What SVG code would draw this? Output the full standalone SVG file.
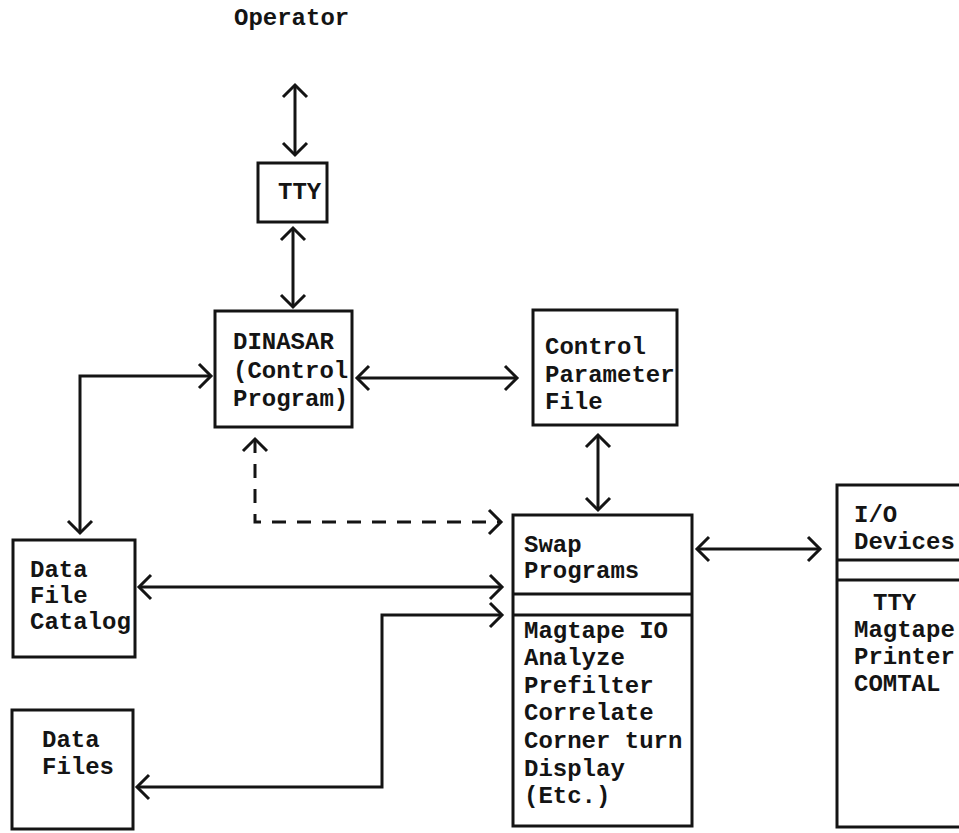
<svg xmlns="http://www.w3.org/2000/svg" width="959" height="833" viewBox="0 0 959 833">
<defs>
<style>
.box{fill:none;stroke:#141414;stroke-width:3;}
.ln{fill:none;stroke:#141414;stroke-width:3;}
.t{font-family:"Liberation Mono","Courier New",monospace;font-weight:bold;font-size:24px;fill:#141414;}
.dash{stroke-dasharray:14 11;}
</style>
<marker id="ah" viewBox="0 0 16 28" markerWidth="16" markerHeight="28" refX="13" refY="14" orient="auto-start-reverse" markerUnits="userSpaceOnUse" overflow="visible">
<path d="M1,2 L13,14 L1,26" fill="none" stroke="#141414" stroke-width="3"/>
</marker>
</defs>
<rect width="959" height="833" fill="#ffffff"/>

<g id="operator">
<text class="t" x="234" y="25">Operator</text>
</g>

<g id="tty">
<rect class="box" x="258" y="163" width="69" height="59"/>
<text class="t" x="278" y="199">TTY</text>
</g>

<g id="dinasar">
<rect class="box" x="215" y="311" width="137" height="116"/>
<text class="t" x="233" y="349">DINASAR</text>
<text class="t" x="233" y="378">(Control</text>
<text class="t" x="233" y="406">Program)</text>
</g>

<g id="control-parameter-file">
<rect class="box" x="533" y="310" width="144" height="115"/>
<text class="t" x="545" y="354">Control</text>
<text class="t" x="545" y="382">Parameter</text>
<text class="t" x="545" y="409">File</text>
</g>

<g id="data-file-catalog">
<rect class="box" x="13" y="540" width="122" height="117"/>
<text class="t" x="30" y="577">Data</text>
<text class="t" x="30" y="603">File</text>
<text class="t" x="30" y="629">Catalog</text>
</g>

<g id="data-files">
<rect class="box" x="12" y="710" width="121" height="119"/>
<text class="t" x="42" y="747">Data</text>
<text class="t" x="42" y="774">Files</text>
</g>

<g id="swap-programs">
<rect class="box" x="513" y="515" width="179" height="311"/>
<line class="ln" x1="513" y1="594" x2="692" y2="594"/>
<line class="ln" x1="513" y1="615" x2="692" y2="615"/>
<text class="t" x="524" y="552">Swap</text>
<text class="t" x="524" y="578">Programs</text>
<text class="t" x="524" y="638">Magtape IO</text>
<text class="t" x="524" y="665">Analyze</text>
<text class="t" x="524" y="693">Prefilter</text>
<text class="t" x="524" y="720">Correlate</text>
<text class="t" x="524" y="748">Corner turn</text>
<text class="t" x="524" y="776">Display</text>
<text class="t" x="524" y="803">(Etc.)</text>
</g>

<g id="io-devices">
<rect class="box" x="837" y="485" width="140" height="342"/>
<line class="ln" x1="837" y1="560" x2="977" y2="560"/>
<line class="ln" x1="837" y1="580" x2="977" y2="580"/>
<text class="t" x="854" y="522">I/O</text>
<text class="t" x="854" y="549">Devices</text>
<text class="t" x="873" y="610">TTY</text>
<text class="t" x="854" y="637">Magtape</text>
<text class="t" x="854" y="664">Printer</text>
<text class="t" x="854" y="691">COMTAL</text>
</g>

<g id="connectors">
<line class="ln" x1="295" y1="85" x2="295" y2="155" marker-start="url(#ah)" marker-end="url(#ah)"/>
<line class="ln" x1="293" y1="228" x2="293" y2="307" marker-start="url(#ah)" marker-end="url(#ah)"/>
<path class="ln" d="M80,533 L80,376 L211,376" marker-start="url(#ah)" marker-end="url(#ah)"/>
<line class="ln" x1="357" y1="378" x2="517" y2="378" marker-start="url(#ah)" marker-end="url(#ah)"/>
<path class="ln dash" d="M255,439 L255,522 L501,522" marker-start="url(#ah)" marker-end="url(#ah)"/>
<line class="ln" x1="139" y1="587" x2="502" y2="587" marker-start="url(#ah)" marker-end="url(#ah)"/>
<path class="ln" d="M502,615 L382,615 L382,787 L137,787" marker-start="url(#ah)" marker-end="url(#ah)"/>
<line class="ln" x1="598" y1="435" x2="598" y2="510" marker-start="url(#ah)" marker-end="url(#ah)"/>
<line class="ln" x1="697" y1="549" x2="820" y2="549" marker-start="url(#ah)" marker-end="url(#ah)"/>
</g>
</svg>
